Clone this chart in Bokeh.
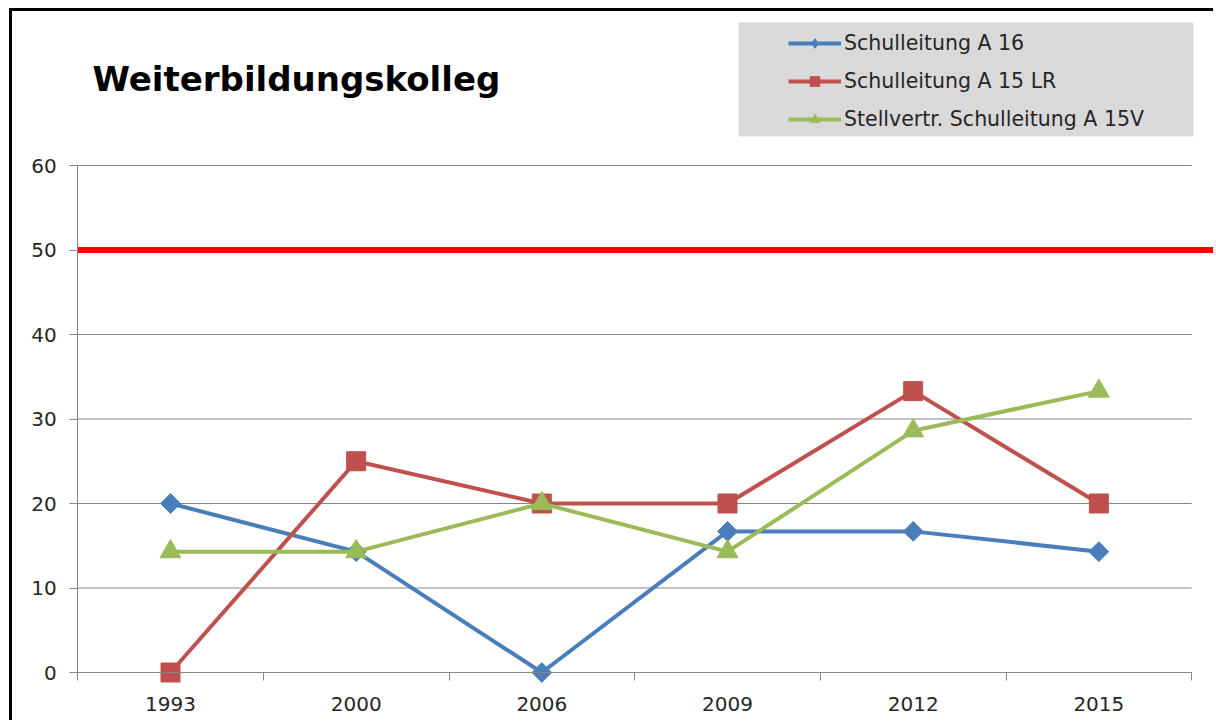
import numpy as np
from bokeh.plotting import figure
from bokeh.models import (Range1d, FixedTicker, LinearAxis, Legend, LegendItem,
                          BoxAnnotation, Label)
from bokeh.embed import file_html
from bokeh.resources import INLINE

title_text = "Weiterbildungskolleg"
years = ["1993", "2000", "2006", "2009", "2012", "2015"]
series_names = ["Schulleitung A 16", "Schulleitung A 15 LR", "Stellvertr. Schulleitung A 15V"]
a16 = [20, 14.3, 0, 16.7, 16.7, 14.3]
a15lr = [0, 25, 20, 20, 33.3, 20]
a15v = [14.3, 14.3, 20, 14.3, 28.6, 33.3]
y_ticks = [0, 10, 20, 30, 40, 50, 60]
threshold = 50

FONT = "DejaVu Sans"
GRID = "#868686"
TXT = "#262626"

xs = list(range(len(years)))
ncat = len(years)

# layout (screen pixels of the page)
OX, OY = 12, 11          # canvas origin on the page
W, H = 1204, 712
X0PX, CATPX = 170.0, 185.67   # centre of first category, width of a category
Y0PX, YPX = 672.0, 8.45       # pixel row of value 0, pixels per unit


def dx(px):
    return (px - X0PX) / CATPX


def dy(py):
    return (Y0PX - py) / YPX


x_rng = Range1d(dx(OX), dx(OX + W))
y_rng = Range1d(dy(OY + H), dy(OY))

p = figure(width=W, height=H, output_backend="svg", toolbar_location=None,
           x_range=x_rng, y_range=y_rng,
           x_axis_location=None, y_axis_location=None,
           min_border=0,
           styles={"margin-left": "9px", "margin-top": "8px",
                   "border-left": "3px solid black", "border-top": "3px solid black"})
p.outline_line_color = None
p.xgrid.visible = False
p.ygrid.visible = False
p.background_fill_color = "white"
p.border_fill_color = "white"

left_b, right_b = -0.5, ncat - 0.5

# horizontal gridlines
p.segment(x0=[left_b] * len(y_ticks), x1=[right_b] * len(y_ticks), y0=y_ticks, y1=y_ticks,
          line_color=GRID, line_width=1)

# y axis
yax = LinearAxis(ticker=FixedTicker(ticks=y_ticks), bounds=(y_ticks[0], y_ticks[-1]),
                 fixed_location=left_b)
yax.axis_line_color = GRID
yax.major_tick_line_color = GRID
yax.major_tick_out = 8
yax.major_tick_in = 0
yax.minor_tick_line_color = None
yax.major_label_text_font = FONT
yax.major_label_text_font_size = "20px"
yax.major_label_text_color = TXT
yax.major_label_standoff = 13
p.add_layout(yax, "left")

# x axis
xax = LinearAxis(ticker=FixedTicker(ticks=xs, minor_ticks=[i - 0.5 for i in range(ncat + 1)]),
                 bounds=(left_b, right_b), fixed_location=0)
xax.major_label_overrides = {i: y for i, y in enumerate(years)}
xax.axis_line_color = GRID
xax.major_tick_line_color = None
xax.major_tick_out = 0
xax.major_tick_in = 0
xax.minor_tick_line_color = GRID
xax.minor_tick_out = 8
xax.minor_tick_in = 0
xax.major_label_text_font = FONT
xax.major_label_text_font_size = "20px"
xax.major_label_text_color = TXT
xax.major_label_standoff = 16
p.add_layout(xax, "below")

# threshold line (runs past the plot area to the right edge)
p.segment(x0=[left_b], x1=[x_rng.end], y0=[threshold], y1=[threshold],
          line_color="#FF0000", line_width=6)

# series
colors = ["#4A7EBB", "#C0504D", "#9BBB59"]
items = []
specs = [(a16, "square", 14, np.pi / 4, "diamond"),
         (a15lr, "square", 19, 0.0, "square"),
         (a15v, "triangle", 21, 0.0, "triangle")]
for name, (vals, marker, size, ang, leg_marker), col in zip(series_names, specs, colors):
    ln = p.line(xs, vals, line_color=col, line_width=4)
    sc = p.scatter(xs, vals, marker=marker, size=size, angle=ang, fill_color=col, line_color=col)
    # legend-only marker renderer (a single NaN point, never drawn in the plot)
    lg = p.scatter(x=[np.nan], y=[np.nan], marker=leg_marker, size=12,
                   fill_color=col, line_color=col)
    items.append(LegendItem(label=name, renderers=[ln, lg]))

# title
p.add_layout(Label(x=dx(92), y=dy(78), text=title_text, text_font=FONT,
                   text_font_style="bold", text_font_size="34px", text_color="black",
                   text_baseline="alphabetic", text_align="left"))

# legend background box
box = BoxAnnotation(left=dx(738), right=dx(1193), top=dy(22), bottom=dy(136),
                    fill_color="#D9D9D9", fill_alpha=1.0, line_color=None, level="underlay")
p.add_layout(box)

legend = Legend(items=items, location=(788 - OX, OY + H - 131))
legend.background_fill_alpha = 0
legend.border_line_color = None
legend.padding = 7
legend.spacing = 14
legend.glyph_width = 53
legend.glyph_height = 24
legend.label_height = 24
legend.label_standoff = 3
legend.label_text_font = FONT
legend.label_text_font_size = "20.5px"
legend.label_text_color = TXT
legend.margin = 0
p.add_layout(legend, "center")

open("out.html", "w").write(file_html(p, INLINE))
